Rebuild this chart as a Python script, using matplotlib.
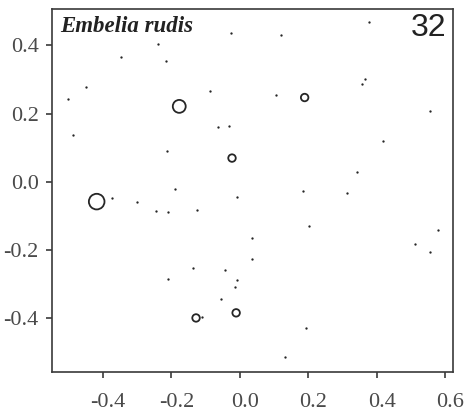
import numpy as np
import matplotlib
matplotlib.use('Agg')
import matplotlib.pyplot as plt
import matplotlib.transforms as mtransforms

# Ordination scores: single records drawn as dots
dot_x = [-0.027, -0.240, -0.216, -0.348, -0.449, -0.503, -0.486, -0.087, -0.063, -0.032,
         -0.214, -0.190, -0.009, -0.372, -0.299, -0.246, -0.209, -0.125, -0.136, -0.044,
         -0.008, -0.209, -0.014, -0.054, -0.112, 0.203, 0.034, 0.034, 0.192, 0.133,
         0.512, 0.554, 0.578, 0.120, 0.376, 0.365, 0.357, 0.104, 0.554, 0.417,
         0.342, 0.185, 0.314]
dot_y = [0.436, 0.404, 0.354, 0.365, 0.277, 0.244, 0.136, 0.266, 0.159, 0.162,
         0.090, -0.021, -0.046, -0.049, -0.059, -0.087, -0.089, -0.084, -0.255, -0.260,
         -0.288, -0.287, -0.311, -0.346, -0.398, -0.131, -0.165, -0.227, -0.431, -0.516,
         -0.184, -0.206, -0.141, 0.430, 0.468, 0.301, 0.286, 0.255, 0.207, 0.120,
         0.027, -0.027, -0.033]

# Sites with repeated records: open circles, size by count
circ_x = [-0.418, -0.177, -0.023, 0.189, -0.128, -0.011]
circ_y = [-0.059, 0.221, 0.069, 0.247, -0.401, -0.386]
circ_n = [5, 4, 2, 2, 2, 2]

species = 'Embelia rudis'
panel = '32'

xticks = [-0.4, -0.2, 0.0, 0.2, 0.4, 0.6]
yticks = [-0.4, -0.2, 0.0, 0.2, 0.4]

ink = '#262626'
lab = '#4a4a4a'

fig = plt.figure(figsize=(4.67, 4.13), dpi=100)
ax = fig.add_axes([0.1124, 0.100, 0.8576, 0.878])

ax.scatter(dot_x, dot_y, s=2.8, color=ink, linewidths=0, zorder=3)
sizes = [(1.5 + 1.95 * n) ** 2 for n in circ_n]
ax.scatter(circ_x, circ_y, s=sizes, facecolors='none', edgecolors=ink, linewidths=1.3, zorder=3)

ax.set_xlim(-0.547, 0.622)
ax.set_ylim(-0.559, 0.507)
ax.set_xticks(xticks)
ax.set_yticks(yticks)
ax.set_xticklabels([f'{t:.1f}' for t in xticks])
ax.set_yticklabels([f'{t:.1f}' for t in yticks])

for sp in ax.spines.values():
    sp.set_color('#3a3a3a')
    sp.set_linewidth(1.2)

ax.tick_params(direction='out', length=4, width=1.2, color='#3a3a3a',
               labelcolor=lab, labelsize=16)
ax.tick_params(axis='x', pad=11)
ax.tick_params(axis='y', pad=6)
for t in ax.get_xticklabels() + ax.get_yticklabels():
    t.set_fontfamily('Liberation Serif')
# x labels sit a little right of their ticks
shift = mtransforms.ScaledTranslation(5 / 100, 0, fig.dpi_scale_trans)
for t in ax.get_xticklabels():
    t.set_transform(t.get_transform() + shift)

ax.text(0.019, 0.937, species, transform=ax.transAxes, family='Liberation Serif',
        style='italic', weight='bold', fontsize=16.5, color='#222222', va='baseline', ha='left')
ax.text(0.983, 0.9256, panel, transform=ax.transAxes, family='Liberation Sans',
        fontsize=23, color='#222222', va='baseline', ha='right')

fig.savefig('out.png', dpi=100)
